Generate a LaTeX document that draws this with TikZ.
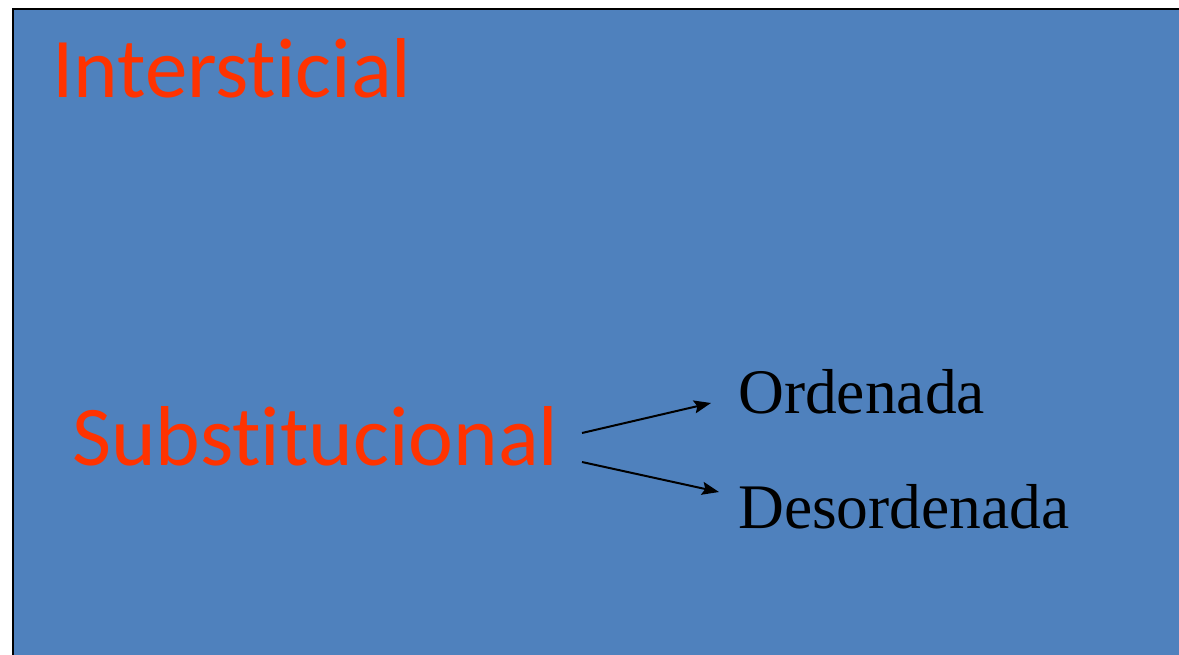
\documentclass[tikz,border=0pt]{standalone}
\usepackage{fontspec}
\setmainfont{Liberation Serif}
\newfontfamily\calib[Ligatures={NoCommon,NoRequired,NoContextual,NoRare}]{Carlito}
\usetikzlibrary{arrows.meta}
\definecolor{slideblue}{HTML}{4F81BD}
\definecolor{slidered}{HTML}{FF3300}
\tikzset{
  redlabel/.style={inner sep=0pt, anchor=base west, text=slidered, font=\calib\fontsize{85}{85}\selectfont},
  blacklabel/.style={inner sep=0pt, anchor=base west, text=black, font=\fontsize{63.5}{63.5}\selectfont},
  arrowline/.style={line width=2pt, -{Stealth[length=17pt,width=13pt,inset=3pt]}}
}
\begin{document}
\begin{tikzpicture}[x=1pt,y=-1pt]
\useasboundingbox (0,0) rectangle (1179,654);
\begin{scope}
\clip (0,0) rectangle (1179,654);
\draw[fill=slideblue, line width=2.5pt] (13,9) rectangle (1200,680);
\end{scope}
\node[redlabel] (inter) at (52,97) {Intersticial};
\node[redlabel] (subst) at (72,465) {Substitucional};
\node[blacklabel] (ord) at (738,413) {Ordenada};
\node[blacklabel] (desord) at (738,528) {Desordenada};
\coordinate (s1) at (582,433);
\coordinate (s2) at (582,462);
\coordinate (e1) at (711,403);
\coordinate (e2) at (719,492);
\draw[arrowline] (s1) -- (e1);
\draw[arrowline] (s2) -- (e2);
\end{tikzpicture}
\end{document}
